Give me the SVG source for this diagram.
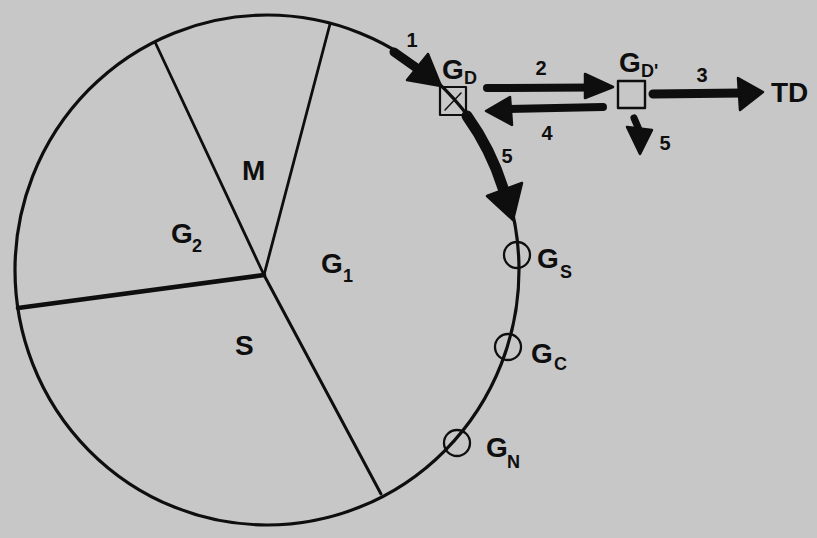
<svg xmlns="http://www.w3.org/2000/svg" width="817" height="538" viewBox="0 0 817 538">
<style>
.ink{fill:none;stroke:#0e0e0e;stroke-linecap:round;stroke-linejoin:round}
.head{fill:#0e0e0e;stroke:#0e0e0e;stroke-width:2.5;stroke-linejoin:round}
.lbl{font-family:"Liberation Sans",Arial,sans-serif;font-weight:bold;fill:#0e0e0e;font-size:28px}
.sub{font-size:18px}
.num{font-family:"Liberation Sans",Arial,sans-serif;font-weight:bold;fill:#0e0e0e;font-size:20px;text-anchor:middle}
</style>
<rect width="817" height="538" fill="#c7c7c7"/>
<g id="pie">
  <ellipse class="ink" cx="267" cy="270" rx="252" ry="255" stroke-width="3.2"/>
  <line class="ink" x1="264" y1="275" x2="155" y2="42" stroke-width="2.8"/>
  <line class="ink" x1="264" y1="275" x2="330" y2="24" stroke-width="2.8"/>
  <line class="ink" x1="264" y1="275" x2="18" y2="308" stroke-width="4.6"/>
  <line class="ink" x1="264" y1="275" x2="381" y2="494" stroke-width="3"/>
  <text class="lbl" x="242" y="180">M</text>
  <text class="lbl" x="171" y="243">G<tspan class="sub" x="192" y="252" font-size="16">2</tspan></text>
  <text class="lbl" x="321" y="273">G<tspan class="sub" x="343" y="282" font-size="16">1</tspan></text>
  <text class="lbl" x="235" y="355">S</text>
</g>
<g id="GD">
  <rect class="ink" x="440" y="87" width="26" height="28" stroke-width="2.2"/>
  <line class="ink" x1="461" y1="93" x2="445" y2="110" stroke-width="1.5"/>
  <text class="lbl" x="442" y="79" font-size="23">G<tspan class="sub" x="464" y="84" font-size="17">D</tspan></text>
</g>
<g id="GDp">
  <rect class="ink" x="618" y="81" width="27" height="27" stroke-width="2.4"/>
  <text class="lbl" x="619" y="72" font-size="26">G<tspan class="sub" x="641" y="77" font-size="16">D'</tspan></text>
</g>
<g id="TD">
  <text class="lbl" x="771" y="102" font-size="32">TD</text>
</g>
<g id="GS">
  <circle class="ink" cx="517" cy="255" r="13" stroke-width="2.3"/>
  <text class="lbl" x="537" y="268">G<tspan class="sub" x="560" y="278">S</tspan></text>
</g>
<g id="GC">
  <circle class="ink" cx="508" cy="347" r="13" stroke-width="2.3"/>
  <text class="lbl" x="531" y="363">G<tspan class="sub" x="554" y="370">C</tspan></text>
</g>
<g id="GN">
  <circle class="ink" cx="457" cy="443" r="13" stroke-width="2.3"/>
  <text class="lbl" x="486" y="457">G<tspan class="sub" x="507" y="468">N</tspan></text>
</g>
<g id="connectors">
  <!-- 1 -->
  <line class="ink" x1="394" y1="52" x2="418" y2="69" stroke-width="9"/>
  <polygon class="head" points="428,54 407,80 441,86"/>
  <text class="num" x="412" y="47">1</text>
  <!-- 2 -->
  <line class="ink" x1="487" y1="88" x2="590" y2="87.5" stroke-width="8" stroke-linecap="butt"/>
  <polygon class="head" points="585,74 613,87 585,98"/>
  <text class="num" x="541" y="75">2</text>
  <!-- 4 -->
  <line class="ink" x1="505" y1="109" x2="603" y2="107" stroke-width="8"/>
  <polygon class="head" points="486,111 510,97 512,125"/>
  <text class="num" x="547" y="140">4</text>
  <!-- 3 -->
  <line class="ink" x1="653" y1="94" x2="742" y2="93" stroke-width="9"/>
  <polygon class="head" points="738,78 763,92 740,110"/>
  <text class="num" x="702" y="82">3</text>
  <!-- 5 curved -->
  <path class="ink" d="M467,116 A252,255 0 0 1 503,188" stroke-width="11"/>
  <polygon class="head" points="487,196 522,183 513,220"/>
  <text class="num" x="507" y="163">5</text>
  <!-- 5 small -->
  <line class="ink" x1="634" y1="118" x2="640" y2="132" stroke-width="7"/>
  <polygon class="head" points="627,127 652,130 640,154"/>
  <text class="num" x="665" y="150">5</text>
</g>
</svg>
